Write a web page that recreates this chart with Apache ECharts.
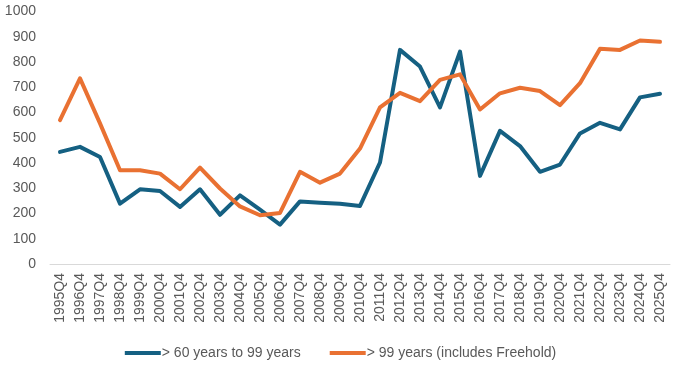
<!DOCTYPE html>
<html>
<head>
<meta charset="utf-8">
<script src="https://cdn.jsdelivr.net/npm/echarts@6/dist/echarts.min.js"></script>
<style>
html,body{margin:0;padding:0;background:#fff;}
#chart{width:681px;height:371px;}
</style>
</head>
<body>
<div id="chart"></div>
<script>
const categories = ["1995Q4","1996Q4","1997Q4","1998Q4","1999Q4","2000Q4","2001Q4","2002Q4","2003Q4","2004Q4","2005Q4","2006Q4","2007Q4","2008Q4","2009Q4","2010Q4","2011Q4","2012Q4","2013Q4","2014Q4","2015Q4","2016Q4","2017Q4","2018Q4","2019Q4","2020Q4","2021Q4","2022Q4","2023Q4","2024Q4","2025Q4"];
const seriesNames = ["> 60 years to 99 years", "> 99 years (includes Freehold)"];
const lease60to99 = [444,464,424,239,296,289,226,296,195,272,215,156,248,243,239,230,402,848,782,620,841,349,527,467,365,394,517,559,533,660,674];
const lease99plus = [570,735,557,371,371,358,296,382,299,228,193,202,365,322,358,457,620,678,645,729,751,612,676,698,685,629,716,852,848,885,880];
const yTicks = {min:0, max:1000, interval:100};

const font = "'Liberation Sans', Arial, sans-serif";
const chart = echarts.init(document.getElementById('chart'), null, {renderer:'canvas'});
chart.setOption({
  animation:false,
  backgroundColor:'#ffffff',
  color:['#156082','#E97132'],
  grid:{left:50, right:11, top:11.5, bottom:107, containLabel:false},
  legend:{
    data:seriesNames,
    top:341, left:'center',
    icon:'rect', itemWidth:36, itemHeight:4, itemGap:29,
    textStyle:{color:'#595959', fontSize:14, fontFamily:font, padding:[0,0,0,-4]}
  },
  xAxis:{
    type:'category', data:categories, boundaryGap:true,
    axisLine:{lineStyle:{color:'#D9D9D9', width:1}},
    axisTick:{show:false},
    axisLabel:{rotate:90, color:'#595959', fontSize:14, fontFamily:font, margin:9, interval:0}
  },
  yAxis:{
    type:'value', min:yTicks.min, max:yTicks.max, interval:yTicks.interval,
    axisLine:{show:false}, axisTick:{show:false},
    splitLine:{show:false},
    axisLabel:{color:'#595959', fontSize:14, fontFamily:font, margin:14, formatter:function(v){return String(v);}}
  },
  series:[
    {name:seriesNames[0], type:'line', data:lease60to99, showSymbol:false, symbol:'none',
     lineStyle:{width:4, color:'#156082', cap:'round', join:'round'}},
    {name:seriesNames[1], type:'line', data:lease99plus, showSymbol:false, symbol:'none',
     lineStyle:{width:4, color:'#E97132', cap:'round', join:'round'}}
  ]
});
</script>
</body>
</html>
